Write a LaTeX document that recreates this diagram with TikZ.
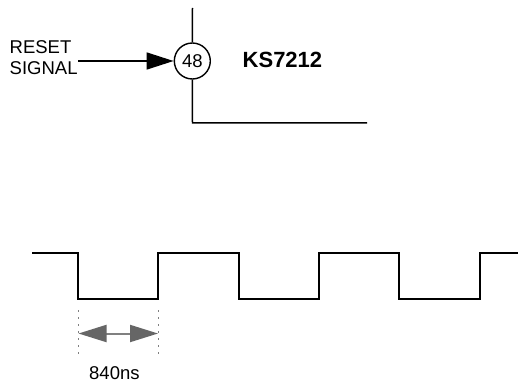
\documentclass[tikz,border=0pt]{standalone}
\usepackage{fontspec}
\setmainfont{Liberation Sans}
\usetikzlibrary{arrows.meta}
\tikzset{
  wire/.style={line width=1.5pt,black},
  lbl/.style={inner sep=0pt,font=\fontsize{18.5}{21}\selectfont,align=left},
  dim/.style={line width=0.5pt,gray,dash pattern=on 2pt off 5pt},
  graydim/.style={line width=2pt,color=black!50,{Triangle[length=28pt,width=17pt,color=black!60]}-{Triangle[length=28pt,width=17pt,color=black!60]}},
}
\begin{document}
\begin{tikzpicture}[x=1pt,y=-1pt]
\useasboundingbox (0,0) rectangle (518,385);
% pin circle
\node[draw,circle,line width=1.4pt,minimum size=36pt,inner sep=0pt,font=\fontsize{18.5}{21}\selectfont] (pin) at (192.3,61) {48};
\coordinate (top) at (192.5,8);
\coordinate (corner) at (192.5,122.8);
\coordinate (right) at (367,122.8);
\draw[wire] (top) -- (pin.north);
\draw[wire] (pin.south) -- (corner) -- (right);
\node[lbl,anchor=base west] (reset) at (9.5,53.5) {RESET};
\node[lbl,anchor=base west] (signal) at (9.5,75) {SIGNAL};
\coordinate (sigend) at (78,61);
\draw[wire,-{Triangle[length=27pt,width=17pt]}] (sigend) -- (pin.west);
\node[inner sep=0pt,anchor=base west,font=\bfseries\fontsize{22}{26}\selectfont] (chip) at (242.5,68) {KS7212};
% waveform
\coordinate (w0) at (32,253);
\coordinate (w1) at (78,253);
\coordinate (w2) at (78,299);
\coordinate (w3) at (158,299);
\coordinate (w4) at (158,253);
\coordinate (w5) at (239,253);
\coordinate (w6) at (239,299);
\coordinate (w7) at (319,299);
\coordinate (w8) at (319,253);
\coordinate (w9) at (399,253);
\coordinate (w10) at (399,299);
\coordinate (w11) at (480,299);
\coordinate (w12) at (480,253);
\coordinate (w13) at (518,253);
\draw[wire,line join=miter] (w0) -- (w1) -- (w2) -- (w3) -- (w4) -- (w5) -- (w6) -- (w7) -- (w8) -- (w9) -- (w10) -- (w11) -- (w12) -- (w13);
% dimension
\coordinate (d1t) at (78,310);
\coordinate (d1b) at (78,357);
\coordinate (d2t) at (158,310);
\coordinate (d2b) at (158,357);
\draw[dim] (d1t) -- (d1b);
\draw[dim] (d2t) -- (d2b);
\coordinate (a1) at (78.5,333.5);
\coordinate (a2) at (158,333.5);
\draw[graydim] (a1) -- (a2);
\node[lbl,anchor=base west] (dur) at (89,379) {840ns};
\end{tikzpicture}
\end{document}
